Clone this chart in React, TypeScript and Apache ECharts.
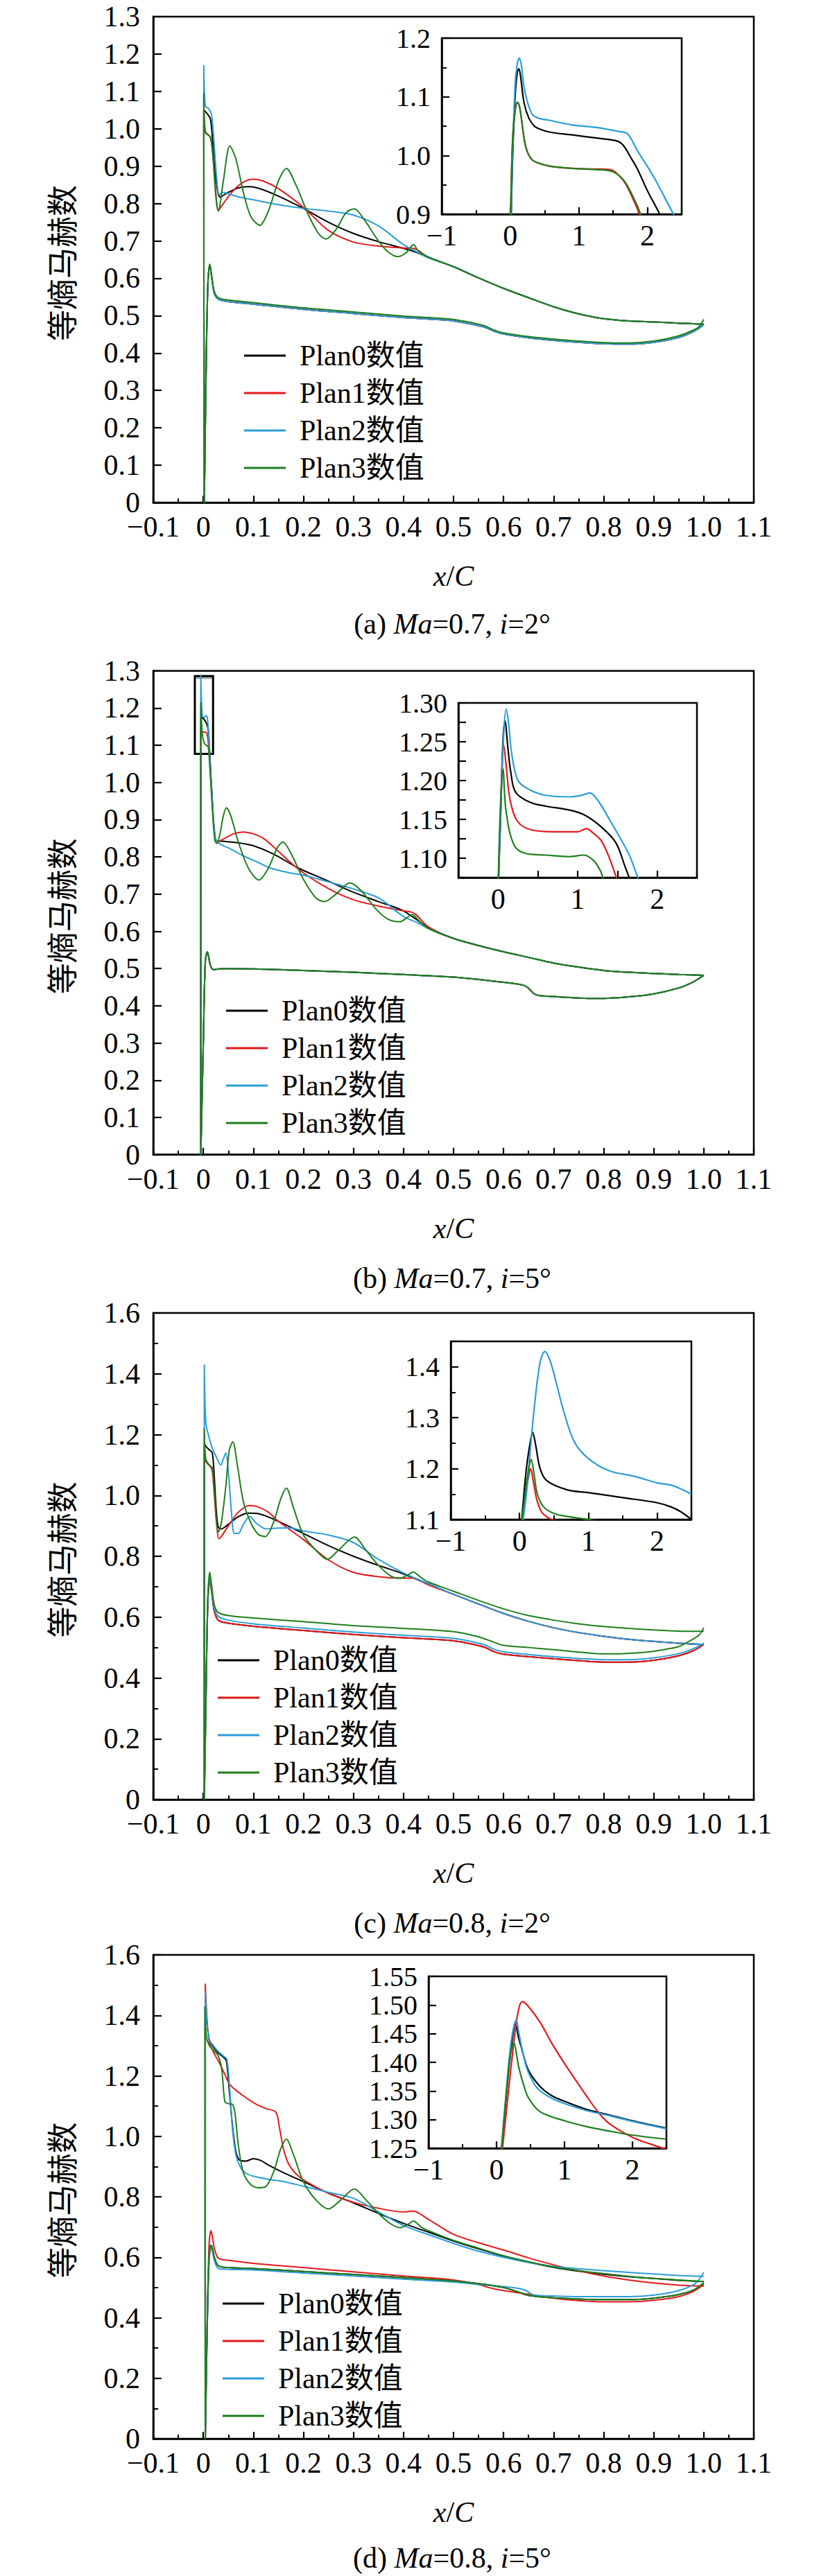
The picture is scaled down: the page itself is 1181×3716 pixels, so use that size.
import React, { useEffect, useRef } from 'react';
import * as echarts from 'echarts';

type Pt = [number, number];

const NAMES = ['Plan0数值', 'Plan1数值', 'Plan2数值', 'Plan3数值'];
const COLORS = ['#000000', '#e3191c', '#2b9cd8', '#1d7f1d'];
const CAPTIONS = ['(a) {i|Ma}=0.7, {i|i}=2°', '(b) {i|Ma}=0.7, {i|i}=5°', '(c) {i|Ma}=0.8, {i|i}=2°', '(d) {i|Ma}=0.8, {i|i}=5°'];
const Y_NAME = '等熵马赫数';

// ---------- Panel (a) Ma=0.7, i=2° ----------
const a_ps: Pt[] = [[1.0,0.476],[0.98,0.458],[0.95,0.442],[0.9,0.429],[0.85,0.424],[0.8,0.425],[0.75,0.429],[0.7,0.434],[0.65,0.441],[0.6,0.451],[0.58,0.459],[0.56,0.47],[0.5,0.486],[0.45,0.491],[0.4,0.495],[0.3,0.506],[0.2,0.517],[0.1,0.531],[0.05,0.538],[0.03,0.544],[0.022,0.56],[0.017,0.6],[0.013,0.636],[0.009,0.58],[0.005,0.3],[0.002,0.0]];
const a_ps_g: Pt[] = [[1.0,0.49],[0.99,0.47],[0.98,0.462],[0.95,0.446],[0.9,0.432],[0.85,0.427],[0.8,0.428],[0.75,0.432],[0.7,0.437],[0.65,0.444],[0.6,0.454],[0.58,0.462],[0.56,0.474],[0.5,0.49],[0.45,0.495],[0.4,0.499],[0.3,0.51],[0.2,0.521],[0.1,0.535],[0.05,0.542],[0.03,0.548],[0.022,0.565],[0.017,0.605],[0.013,0.638],[0.009,0.58],[0.005,0.3],[0.002,0.0]];
const a_ss0: Pt[] = [[0.001,1.05],[0.008,1.04],[0.014,1.027],[0.018,0.98],[0.024,0.88],[0.03,0.825],[0.034,0.817],[0.04,0.822],[0.05,0.83],[0.07,0.842],[0.09,0.845],[0.11,0.841],[0.15,0.82],[0.2,0.787],[0.25,0.75],[0.3,0.72],[0.35,0.698],[0.4,0.68],[0.43,0.667],[0.45,0.655]];
const a_ss1: Pt[] = [[0.001,1.09],[0.004,0.99],[0.014,0.978],[0.019,0.93],[0.025,0.83],[0.03,0.781],[0.04,0.8],[0.06,0.835],[0.08,0.857],[0.1,0.865],[0.12,0.86],[0.15,0.84],[0.2,0.79],[0.25,0.728],[0.3,0.697],[0.35,0.686],[0.4,0.681],[0.42,0.68],[0.45,0.656]];
const a_ss2: Pt[] = [[0.001,1.17],[0.004,1.06],[0.01,1.055],[0.016,1.04],[0.02,0.99],[0.026,0.88],[0.032,0.824],[0.04,0.83],[0.05,0.826],[0.07,0.818],[0.1,0.81],[0.15,0.797],[0.2,0.787],[0.25,0.78],[0.3,0.769],[0.35,0.74],[0.4,0.69],[0.43,0.668],[0.45,0.655]];
const a_ss3: Pt[] = [[0.001,1.094],[0.004,0.993],[0.014,0.978],[0.019,0.93],[0.025,0.82],[0.03,0.78],[0.04,0.86],[0.053,0.954],[0.065,0.92],[0.08,0.83],[0.095,0.765],[0.113,0.742],[0.13,0.78],[0.15,0.86],[0.166,0.894],[0.185,0.85],[0.21,0.77],[0.23,0.72],[0.245,0.705],[0.265,0.73],[0.285,0.775],[0.302,0.786],[0.32,0.76],[0.35,0.7],[0.37,0.67],[0.389,0.658],[0.405,0.668],[0.42,0.69],[0.43,0.672],[0.45,0.657]];
const a_tail: Pt[] = [[0.5,0.631],[0.55,0.601],[0.6,0.573],[0.65,0.548],[0.7,0.524],[0.75,0.505],[0.8,0.492],[0.85,0.486],[0.9,0.483],[0.95,0.48],[1.0,0.477]];
const a_in0: Pt[] = [[0.005,0.85],[0.03,0.98],[0.07,1.1],[0.1,1.14],[0.125,1.148],[0.15,1.135],[0.2,1.09],[0.27,1.064],[0.35,1.05],[0.41,1.046],[0.57,1.04],[0.91,1.035],[1.24,1.03],[1.55,1.025],[1.65,1.017],[1.75,0.998],[1.85,0.978],[2.0,0.94],[2.18,0.9],[2.25,0.88]];
const a_in1: Pt[] = [[0.0,0.85],[0.005,0.9],[0.035,1.03],[0.08,1.085],[0.105,1.09],[0.14,1.08],[0.2,1.03],[0.24,1.009],[0.3,0.995],[0.37,0.989],[0.57,0.982],[0.91,0.978],[1.24,0.977],[1.45,0.976],[1.55,0.97],[1.68,0.952],[1.85,0.91],[1.88,0.9],[1.93,0.885]];
const a_in2: Pt[] = [[0.005,0.85],[0.03,0.99],[0.07,1.12],[0.1,1.155],[0.13,1.166],[0.16,1.155],[0.21,1.11],[0.31,1.072],[0.4,1.064],[0.57,1.06],[0.91,1.052],[1.24,1.048],[1.58,1.041],[1.71,1.037],[1.85,1.009],[2.08,0.966],[2.38,0.9],[2.45,0.885]];
const a_in3: Pt[] = [[0.0,0.85],[0.005,0.9],[0.035,1.03],[0.08,1.085],[0.105,1.091],[0.14,1.08],[0.2,1.03],[0.24,1.009],[0.3,0.995],[0.37,0.989],[0.57,0.982],[0.91,0.978],[1.24,0.976],[1.45,0.974],[1.55,0.969],[1.68,0.954],[1.85,0.915],[1.9,0.9],[1.95,0.885]];

// ---------- Panel (b) Ma=0.7, i=5° ----------
const b_ps: Pt[] = [[1.0,0.482],[0.98,0.465],[0.95,0.448],[0.9,0.432],[0.85,0.424],[0.8,0.42],[0.75,0.421],[0.7,0.425],[0.67,0.428],[0.66,0.433],[0.65,0.447],[0.64,0.455],[0.6,0.463],[0.5,0.477],[0.4,0.484],[0.3,0.49],[0.2,0.495],[0.1,0.499],[0.05,0.5],[0.03,0.499],[0.02,0.497],[0.014,0.51],[0.008,0.545],[0.004,0.52],[0.0,0.3],[-0.005,0.0]];
const b_ss0: Pt[] = [[-0.005,1.175],[0.0,1.172],[0.006,1.16],[0.01,1.14],[0.014,1.05],[0.018,0.95],[0.022,0.87],[0.027,0.843],[0.04,0.842],[0.07,0.838],[0.1,0.83],[0.14,0.808],[0.19,0.77],[0.25,0.735],[0.3,0.705],[0.35,0.68],[0.4,0.655],[0.45,0.61]];
const b_ss1: Pt[] = [[-0.005,1.14],[0.0,1.135],[0.005,1.135],[0.009,1.12],[0.013,1.05],[0.018,0.95],[0.022,0.87],[0.027,0.84],[0.04,0.848],[0.06,0.862],[0.08,0.867],[0.1,0.862],[0.12,0.85],[0.143,0.824],[0.17,0.79],[0.2,0.757],[0.25,0.715],[0.3,0.685],[0.35,0.668],[0.4,0.655],[0.415,0.652],[0.425,0.645],[0.45,0.612]];
const b_ss2: Pt[] = [[-0.005,1.29],[-0.002,1.18],[0.002,1.175],[0.005,1.18],[0.008,1.175],[0.011,1.12],[0.015,1.02],[0.019,0.93],[0.023,0.86],[0.027,0.842],[0.04,0.83],[0.051,0.824],[0.07,0.81],[0.088,0.798],[0.11,0.785],[0.134,0.77],[0.17,0.758],[0.2,0.751],[0.25,0.733],[0.3,0.714],[0.35,0.69],[0.4,0.64],[0.43,0.622],[0.45,0.607]];
const b_ss3: Pt[] = [[-0.005,1.215],[-0.002,1.13],[0.002,1.105],[0.006,1.1],[0.01,1.095],[0.014,1.02],[0.018,0.93],[0.023,0.845],[0.027,0.836],[0.033,0.86],[0.04,0.91],[0.046,0.932],[0.055,0.91],[0.07,0.84],[0.09,0.77],[0.111,0.738],[0.13,0.77],[0.148,0.825],[0.159,0.84],[0.175,0.81],[0.2,0.74],[0.225,0.69],[0.242,0.68],[0.265,0.7],[0.293,0.73],[0.315,0.71],[0.345,0.66],[0.37,0.632],[0.393,0.626],[0.41,0.64],[0.418,0.645],[0.43,0.63],[0.45,0.608]];
const b_tail: Pt[] = [[0.5,0.581],[0.55,0.562],[0.6,0.545],[0.65,0.53],[0.7,0.515],[0.75,0.504],[0.8,0.495],[0.85,0.49],[0.9,0.487],[0.95,0.484],[1.0,0.482]];
const b_in0: Pt[] = [[0.0,1.06],[0.03,1.15],[0.06,1.25],[0.086,1.277],[0.12,1.245],[0.16,1.21],[0.22,1.185],[0.4,1.172],[0.6,1.167],[0.9,1.162],[1.08,1.156],[1.3,1.14],[1.48,1.12],[1.6,1.088],[1.65,1.075],[1.7,1.065]];
const b_in1: Pt[] = [[0.0,1.06],[0.03,1.16],[0.07,1.246],[0.1,1.22],[0.15,1.175],[0.24,1.148],[0.4,1.137],[0.7,1.134],[1.0,1.134],[1.11,1.138],[1.2,1.132],[1.3,1.122],[1.4,1.1],[1.48,1.077],[1.52,1.065]];
const b_in2: Pt[] = [[0.0,1.06],[0.03,1.15],[0.07,1.26],[0.1,1.292],[0.13,1.275],[0.17,1.235],[0.25,1.2],[0.4,1.188],[0.6,1.181],[0.9,1.179],[1.05,1.181],[1.15,1.184],[1.25,1.175],[1.41,1.148],[1.64,1.106],[1.75,1.077],[1.8,1.065]];
const b_in3: Pt[] = [[0.0,1.06],[0.03,1.17],[0.06,1.215],[0.1,1.16],[0.2,1.117],[0.35,1.106],[0.6,1.104],[0.9,1.102],[1.08,1.104],[1.2,1.097],[1.28,1.085],[1.32,1.075],[1.35,1.068]];
const b_box: number[] = [-0.0169, 0.0195, 1.077, 1.286];

// ---------- Panel (c) Ma=0.8, i=2° ----------
const c_ps0: Pt[] = [[1.0,0.51],[0.98,0.49],[0.95,0.473],[0.9,0.458],[0.85,0.452],[0.8,0.452],[0.75,0.457],[0.7,0.463],[0.65,0.47],[0.6,0.478],[0.58,0.487],[0.56,0.502],[0.5,0.522],[0.4,0.532],[0.3,0.543],[0.2,0.556],[0.1,0.57],[0.05,0.58],[0.03,0.59],[0.022,0.62],[0.017,0.68],[0.013,0.72],[0.009,0.65],[0.005,0.3],[0.002,0.0]];
const c_ps2: Pt[] = [[1.0,0.515],[0.98,0.497],[0.95,0.48],[0.9,0.466],[0.85,0.46],[0.8,0.46],[0.75,0.464],[0.7,0.47],[0.65,0.477],[0.6,0.486],[0.58,0.495],[0.56,0.51],[0.5,0.53],[0.4,0.54],[0.3,0.551],[0.2,0.564],[0.1,0.578],[0.05,0.59],[0.03,0.602],[0.022,0.63],[0.017,0.69],[0.013,0.73],[0.009,0.65],[0.005,0.3],[0.002,0.0]];
const c_ps3: Pt[] = [[1.0,0.565],[0.99,0.54],[0.97,0.52],[0.95,0.503],[0.9,0.488],[0.85,0.481],[0.8,0.479],[0.75,0.485],[0.7,0.493],[0.65,0.5],[0.6,0.507],[0.58,0.518],[0.55,0.535],[0.5,0.552],[0.4,0.563],[0.3,0.572],[0.2,0.585],[0.1,0.597],[0.05,0.605],[0.03,0.615],[0.022,0.64],[0.017,0.7],[0.013,0.748],[0.009,0.66],[0.005,0.3],[0.002,0.0]];
const c_ss0: Pt[] = [[0.002,1.17],[0.006,1.16],[0.012,1.15],[0.018,1.14],[0.022,1.06],[0.026,0.95],[0.03,0.895],[0.036,0.89],[0.05,0.905],[0.07,0.93],[0.09,0.942],[0.11,0.94],[0.15,0.915],[0.2,0.875],[0.25,0.835],[0.3,0.8],[0.35,0.77],[0.4,0.742],[0.45,0.708]];
const c_ss1: Pt[] = [[0.002,1.12],[0.008,1.105],[0.014,1.095],[0.018,1.08],[0.022,1.0],[0.027,0.9],[0.031,0.858],[0.036,0.865],[0.05,0.9],[0.07,0.945],[0.093,0.967],[0.11,0.962],[0.13,0.945],[0.15,0.915],[0.2,0.855],[0.25,0.788],[0.3,0.747],[0.35,0.733],[0.4,0.728],[0.42,0.728],[0.45,0.706]];
const c_ss2: Pt[] = [[0.002,1.43],[0.005,1.24],[0.01,1.2],[0.017,1.16],[0.025,1.13],[0.035,1.1],[0.04,1.12],[0.045,1.14],[0.05,1.08],[0.056,0.95],[0.062,0.875],[0.07,0.875],[0.08,0.905],[0.093,0.931],[0.105,0.91],[0.126,0.89],[0.15,0.893],[0.175,0.893],[0.2,0.883],[0.25,0.87],[0.3,0.845],[0.35,0.79],[0.4,0.745],[0.45,0.71]];
const c_ss3: Pt[] = [[0.002,1.22],[0.005,1.12],[0.012,1.1],[0.018,1.09],[0.022,1.02],[0.026,0.92],[0.03,0.88],[0.036,0.91],[0.045,1.03],[0.052,1.15],[0.059,1.176],[0.068,1.1],[0.08,0.98],[0.095,0.91],[0.11,0.872],[0.124,0.865],[0.14,0.91],[0.155,0.99],[0.166,1.024],[0.18,0.96],[0.2,0.87],[0.225,0.82],[0.248,0.79],[0.27,0.82],[0.302,0.863],[0.325,0.82],[0.35,0.77],[0.375,0.735],[0.393,0.728],[0.41,0.74],[0.419,0.748],[0.435,0.73],[0.45,0.715]];
const c_tail: Pt[] = [[0.5,0.675],[0.55,0.643],[0.6,0.612],[0.65,0.586],[0.7,0.565],[0.75,0.549],[0.8,0.537],[0.85,0.527],[0.9,0.52],[0.95,0.514],[1.0,0.51]];
const c_tail3: Pt[] = [[0.5,0.685],[0.55,0.655],[0.6,0.627],[0.65,0.605],[0.7,0.59],[0.75,0.578],[0.8,0.569],[0.85,0.563],[0.9,0.558],[0.95,0.554],[1.0,0.553]];
const c_in0: Pt[] = [[0.02,1.08],[0.1,1.2],[0.16,1.255],[0.19,1.271],[0.23,1.25],[0.3,1.2],[0.4,1.176],[0.7,1.158],[1.0,1.153],[1.5,1.143],[2.0,1.133],[2.2,1.125],[2.35,1.115],[2.5,1.1]];
const c_in1: Pt[] = [[0.03,1.08],[0.09,1.15],[0.14,1.19],[0.16,1.2],[0.2,1.175],[0.25,1.14],[0.32,1.115],[0.4,1.105],[0.5,1.098]];
const c_in2: Pt[] = [[0.03,1.08],[0.1,1.15],[0.2,1.3],[0.3,1.41],[0.37,1.43],[0.45,1.41],[0.55,1.36],[0.65,1.309],[0.8,1.252],[1.0,1.22],[1.3,1.196],[1.7,1.184],[2.0,1.172],[2.2,1.168],[2.35,1.16],[2.5,1.15]];
const c_in3: Pt[] = [[0.02,1.08],[0.08,1.15],[0.14,1.205],[0.17,1.218],[0.21,1.19],[0.26,1.15],[0.35,1.125],[0.5,1.112],[0.7,1.106],[1.0,1.1],[1.2,1.095]];

// ---------- Panel (d) Ma=0.8, i=5° ----------
const d_ps1: Pt[] = [[1.0,0.51],[0.98,0.488],[0.95,0.47],[0.9,0.458],[0.85,0.453],[0.8,0.453],[0.75,0.457],[0.7,0.465],[0.65,0.478],[0.6,0.49],[0.57,0.5],[0.55,0.51],[0.5,0.525],[0.4,0.538],[0.3,0.552],[0.2,0.566],[0.1,0.58],[0.05,0.59],[0.03,0.597],[0.022,0.63],[0.018,0.67],[0.015,0.688],[0.011,0.62],[0.007,0.3],[0.004,0.0]];
const d_ps0: Pt[] = [[1.0,0.515],[0.98,0.492],[0.95,0.477],[0.9,0.465],[0.85,0.46],[0.8,0.46],[0.75,0.462],[0.7,0.466],[0.65,0.474],[0.63,0.485],[0.6,0.5],[0.55,0.513],[0.5,0.522],[0.4,0.533],[0.3,0.543],[0.2,0.553],[0.1,0.563],[0.05,0.566],[0.03,0.572],[0.022,0.6],[0.018,0.63],[0.015,0.64],[0.011,0.58],[0.007,0.3],[0.004,0.0]];
const d_ps2: Pt[] = [[1.0,0.55],[0.99,0.525],[0.98,0.51],[0.95,0.49],[0.9,0.475],[0.85,0.47],[0.8,0.47],[0.75,0.47],[0.7,0.472],[0.66,0.475],[0.645,0.49],[0.63,0.497],[0.6,0.503],[0.55,0.51],[0.5,0.518],[0.4,0.528],[0.3,0.538],[0.2,0.548],[0.1,0.558],[0.05,0.56],[0.03,0.563],[0.022,0.59],[0.018,0.62],[0.015,0.632],[0.011,0.57],[0.007,0.3],[0.004,0.0]];
const d_ss0: Pt[] = [[0.004,1.46],[0.007,1.38],[0.012,1.32],[0.02,1.295],[0.03,1.275],[0.04,1.262],[0.046,1.25],[0.052,1.15],[0.058,1.04],[0.065,0.95],[0.072,0.922],[0.085,0.918],[0.1,0.926],[0.115,0.92],[0.13,0.905],[0.16,0.88],[0.2,0.85],[0.25,0.812],[0.3,0.78],[0.35,0.745],[0.4,0.712],[0.45,0.683],[0.5,0.654],[0.55,0.628],[0.6,0.604],[0.65,0.584],[0.7,0.567],[0.75,0.554],[0.8,0.544],[0.85,0.536],[0.9,0.53],[0.95,0.524],[1.0,0.52]];
const d_ss1: Pt[] = [[0.004,1.505],[0.007,1.4],[0.012,1.31],[0.022,1.273],[0.033,1.24],[0.043,1.205],[0.053,1.171],[0.075,1.14],[0.102,1.11],[0.125,1.092],[0.145,1.08],[0.152,1.03],[0.16,0.96],[0.17,0.91],[0.184,0.878],[0.205,0.851],[0.25,0.812],[0.3,0.782],[0.35,0.762],[0.4,0.75],[0.419,0.753],[0.45,0.725],[0.5,0.676],[0.55,0.648],[0.6,0.624],[0.65,0.598],[0.7,0.575],[0.75,0.555],[0.8,0.538],[0.85,0.525],[0.9,0.515],[0.95,0.508],[1.0,0.505]];
const d_ss2: Pt[] = [[0.004,1.48],[0.007,1.38],[0.012,1.32],[0.02,1.3],[0.03,1.28],[0.04,1.266],[0.047,1.255],[0.053,1.15],[0.058,1.03],[0.065,0.94],[0.075,0.895],[0.085,0.878],[0.1,0.868],[0.13,0.858],[0.158,0.851],[0.2,0.835],[0.25,0.815],[0.3,0.795],[0.35,0.75],[0.4,0.705],[0.45,0.675],[0.5,0.646],[0.55,0.62],[0.6,0.6],[0.65,0.583],[0.7,0.57],[0.75,0.562],[0.8,0.556],[0.85,0.55],[0.9,0.545],[0.95,0.54],[1.0,0.537]];
const d_ss3: Pt[] = [[0.003,1.43],[0.006,1.33],[0.012,1.3],[0.02,1.285],[0.03,1.265],[0.037,1.22],[0.043,1.115],[0.05,1.108],[0.058,1.106],[0.063,1.08],[0.07,0.97],[0.08,0.88],[0.095,0.84],[0.11,0.83],[0.124,0.833],[0.14,0.88],[0.155,0.96],[0.166,0.991],[0.18,0.94],[0.2,0.85],[0.225,0.79],[0.25,0.76],[0.275,0.79],[0.302,0.826],[0.325,0.79],[0.35,0.745],[0.375,0.71],[0.393,0.698],[0.41,0.71],[0.42,0.72],[0.435,0.7],[0.45,0.688],[0.5,0.656],[0.55,0.63],[0.6,0.605],[0.65,0.585],[0.7,0.568],[0.75,0.556],[0.8,0.546],[0.85,0.537],[0.9,0.53],[0.95,0.525],[1.0,0.52]];
const d_in0: Pt[] = [[0.06,1.23],[0.15,1.35],[0.22,1.43],[0.28,1.467],[0.32,1.445],[0.365,1.426],[0.47,1.386],[0.64,1.358],[0.81,1.342],[1.0,1.332],[1.32,1.318],[1.66,1.308],[2.0,1.298],[2.5,1.285]];
const d_in1: Pt[] = [[0.07,1.23],[0.15,1.32],[0.25,1.43],[0.32,1.49],[0.38,1.506],[0.45,1.5],[0.64,1.47],[0.81,1.434],[1.0,1.398],[1.32,1.342],[1.49,1.314],[1.66,1.293],[2.0,1.269],[2.25,1.258],[2.5,1.248]];
const d_in2: Pt[] = [[0.06,1.23],[0.15,1.36],[0.22,1.44],[0.29,1.474],[0.33,1.45],[0.4,1.41],[0.47,1.382],[0.6,1.355],[0.8,1.338],[1.0,1.328],[1.32,1.316],[1.66,1.307],[2.0,1.297],[2.5,1.284]];
const d_in3: Pt[] = [[0.06,1.23],[0.14,1.34],[0.2,1.41],[0.256,1.434],[0.3,1.41],[0.33,1.39],[0.4,1.36],[0.47,1.338],[0.64,1.314],[1.0,1.298],[1.32,1.288],[1.66,1.28],[2.0,1.273],[2.5,1.266]];

// Assembled curves (pressure side -> stagnation -> suction side)
const MAIN_CURVES: Pt[][][] = [
  [[...a_ps, ...a_ss0, ...a_tail], [...a_ps, ...a_ss1, ...a_tail], [...a_ps, ...a_ss2, ...a_tail], [...a_ps_g, ...a_ss3, ...a_tail]],
  [[...b_ps, ...b_ss0, ...b_tail], [...b_ps, ...b_ss1, ...b_tail], [...b_ps, ...b_ss2, ...b_tail], [...b_ps, ...b_ss3, ...b_tail]],
  [[...c_ps0, ...c_ss0, ...c_tail], [...c_ps0, ...c_ss1, ...c_tail], [...c_ps2, ...c_ss2, ...c_tail], [...c_ps3, ...c_ss3, ...c_tail3]],
  [[...d_ps0, ...d_ss0], [...d_ps1, ...d_ss1], [...d_ps2, ...d_ss2], [...d_ps0, ...d_ss3]],
];
const INSET_CURVES: Pt[][][] = [
  [a_in0, a_in1, a_in2, a_in3],
  [b_in0, b_in1, b_in2, b_in3],
  [c_in0, c_in1, c_in2, c_in3],
  [d_in0, d_in1, d_in2, d_in3],
];

// Axis scales
const MAIN_Y = [
  { min: 0, max: 1.3, interval: 0.1, minor: false },
  { min: 0, max: 1.3, interval: 0.1, minor: false },
  { min: 0, max: 1.6, interval: 0.2, minor: true },
  { min: 0, max: 1.6, interval: 0.2, minor: true },
];
const INSET_X = [
  { min: -1, max: 2.5, interval: 1, minor: true, step: 1 },
  { min: -0.5, max: 2.5, interval: 0.5, minor: false, step: 1 },
  { min: -1, max: 2.5, interval: 1, minor: true, step: 1 },
  { min: -1, max: 2.5, interval: 1, minor: true, step: 1 },
];
const INSET_Y = [
  { min: 0.9, max: 1.2, interval: 0.1, minor: true, step: 0.1, dec: 1 },
  { min: 1.075, max: 1.3, interval: 0.025, minor: false, step: 0.05, dec: 2 },
  { min: 1.1, max: 1.45, interval: 0.1, minor: true, step: 0.1, dec: 1 },
  { min: 1.25, max: 1.55, interval: 0.05, minor: false, step: 0.05, dec: 2 },
];

// Layout (pixels)
const LAYOUT = [
  { top: 24, height: 701, inset: [637, 55, 346, 254], legend: [352, 491], capY: 900 },
  { top: 967.7, height: 698, inset: [661, 1014, 344, 252], legend: [326, 1436], capY: 1844 },
  { top: 1894, height: 702, inset: [650, 1935, 347, 257], legend: [314, 2373], capY: 2774 },
  { top: 2820, height: 698, inset: [618, 2851, 343, 248], legend: [321, 3301], capY: 3690 },
];
const PLOT_LEFT = 221;
const PLOT_W = 866;

const SERIF = "'Liberation Serif', 'Times New Roman', 'Noto Sans CJK SC', serif";
const CJK = "'Noto Sans CJK SC', 'Noto Sans CJK JP', sans-serif";

const near = (v: number, step: number) => Math.abs(v / step - Math.round(v / step)) < 1e-6;
const signed = (v: number, d: number) => {
  if (Math.abs(v) < 1e-9) return '0';
  const s = Math.abs(v).toFixed(d);
  return v < 0 ? '\u2212' + s : s;
};

function axisCommon(fontSize: number, margin: number, tickLen: number) {
  return {
    axisLine: { show: true, onZero: false, lineStyle: { color: '#000', width: 2.5 } },
    axisTick: { show: true, inside: true, length: tickLen, lineStyle: { color: '#000', width: 2.2 } },
    splitLine: { show: false },
    axisLabel: { color: '#000', fontFamily: SERIF, fontSize, margin, hideOverlap: false },
  };
}

function buildOption() {
  const grid: any[] = [];
  const xAxis: any[] = [];
  const yAxis: any[] = [];
  const series: any[] = [];
  const legend: any[] = [];
  const graphic: any[] = [];

  LAYOUT.forEach((L, p) => {
    const gMain = p * 2;
    const gIn = p * 2 + 1;
    grid.push({ left: PLOT_LEFT, top: L.top, width: PLOT_W, height: L.height, show: true, borderColor: '#000', borderWidth: 2.5, backgroundColor: 'transparent' });
    grid.push({ left: L.inset[0], top: L.inset[1], width: L.inset[2], height: L.inset[3], show: true, borderColor: '#000', borderWidth: 2.5, backgroundColor: '#fff' });

    const cm = axisCommon(42, 14, 10);
    xAxis.push({
      type: 'value', gridIndex: gMain, min: -0.1, max: 1.1, interval: 0.1,
      ...cm,
      minorTick: { show: true, splitNumber: 2, length: 6, lineStyle: { color: '#000', width: 2 } },
      axisLabel: { ...cm.axisLabel, formatter: (v: number) => signed(v, 1) },
    });
    const my = MAIN_Y[p];
    const cmy = axisCommon(42, 19, 12);
    yAxis.push({
      type: 'value', gridIndex: gMain, min: my.min, max: my.max, interval: my.interval,
      ...cmy,
      minorTick: { show: my.minor, splitNumber: 2, length: 7, lineStyle: { color: '#000', width: 2 } },
      axisLabel: { ...cmy.axisLabel, formatter: (v: number) => (Math.abs(v) < 1e-9 ? '0' : v.toFixed(1)) },
    });

    const ix = INSET_X[p];
    const cix = axisCommon(42, 10, 10);
    xAxis.push({
      type: 'value', gridIndex: gIn, min: ix.min, max: ix.max, interval: ix.interval,
      ...cix,
      minorTick: { show: ix.minor, splitNumber: 2, length: 6, lineStyle: { color: '#000', width: 2 } },
      axisLabel: { ...cix.axisLabel, formatter: (v: number) => (near(v, ix.step) ? signed(Math.round(v), 0) : '') },
    });
    const iy = INSET_Y[p];
    const ciy = axisCommon(40, 16, 11);
    yAxis.push({
      type: 'value', gridIndex: gIn, min: iy.min, max: iy.max, interval: iy.interval,
      ...ciy,
      minorTick: { show: iy.minor, splitNumber: 2, length: 7, lineStyle: { color: '#000', width: 2 } },
      axisLabel: { ...ciy.axisLabel, formatter: (v: number) => (near(v, iy.step) && v <= iy.max + 1e-9 && !(p === 2 && v > 1.42) ? v.toFixed(iy.dec) : '') },
    });

    NAMES.forEach((name, k) => {
      const s: any = {
        type: 'line', name, xAxisIndex: gMain, yAxisIndex: gMain,
        data: MAIN_CURVES[p][k], showSymbol: false, symbol: 'none', smooth: 0.3,
        lineStyle: { color: COLORS[k], width: 2 }, itemStyle: { color: COLORS[k] },
        clip: true, silent: true,
      };
      if (p === 1 && k === 3) {
        s.markArea = {
          silent: true,
          data: [
            [{ coord: [b_box[0], b_box[3]], itemStyle: { color: '#a9a9a9', borderWidth: 0 } }, { coord: [b_box[1], b_box[3] - 0.008] }],
            [{ coord: [b_box[0], b_box[3]], itemStyle: { color: 'rgba(0,0,0,0)', borderColor: '#000', borderWidth: 3 } }, { coord: [b_box[1], b_box[2]] }],
          ],
        };
      }
      series.push(s);
    });
    NAMES.forEach((name, k) => {
      series.push({
        type: 'line', name, xAxisIndex: gIn, yAxisIndex: gIn,
        data: INSET_CURVES[p][k], showSymbol: false, symbol: 'none', smooth: 0.35,
        lineStyle: { color: COLORS[k], width: 2.2 }, itemStyle: { color: COLORS[k] },
        clip: true, silent: true, z: 5,
      });
    });

    legend.push({
      left: L.legend[0], top: L.legend[1], orient: 'vertical', padding: 0,
      icon: 'rect', itemWidth: 60, itemHeight: 3, itemGap: 10,
      selectedMode: false,
      textStyle: { color: '#000', fontSize: 42, lineHeight: 44, fontFamily: SERIF, padding: [0, 0, 0, 15] },
      data: NAMES,
    });

    const bottom = L.top + L.height;
    graphic.push({
      type: 'text', x: PLOT_LEFT + PLOT_W / 2, y: bottom + 106,
      style: { text: '{i|x}/{i|C}', fill: '#000', font: `42px ${SERIF}`, fontSize: 42, fontFamily: SERIF, align: 'center', verticalAlign: 'middle', rich: { i: { fontStyle: 'italic', fontSize: 42, fontFamily: SERIF, fill: '#000' } } },
    });
    graphic.push({
      type: 'text', x: 652, y: L.capY,
      style: { text: CAPTIONS[p], fill: '#000', fontSize: 42, fontFamily: SERIF, align: 'center', verticalAlign: 'middle', rich: { i: { fontStyle: 'italic', fontSize: 42, fontFamily: SERIF, fill: '#000' } } },
    });
    graphic.push({
      type: 'text', x: 87, y: L.top + L.height / 2 + 5, rotation: Math.PI / 2,
      style: { text: Y_NAME, fill: '#000', fontSize: 45, fontFamily: CJK, align: 'center', verticalAlign: 'middle' },
    });
  });

  return { animation: false, backgroundColor: '#fff', grid, xAxis, yAxis, series, legend, graphic };
}

export default function App() {
  const ref = useRef<HTMLDivElement>(null);
  useEffect(() => {
    document.body.style.margin = '0';
    if (!ref.current) return;
    const chart = echarts.init(ref.current, null, { renderer: 'svg' });
    chart.setOption(buildOption() as any);
    return () => chart.dispose();
  }, []);
  return <div ref={ref} style={{ width: 1181, height: 3716 }} />;
}
